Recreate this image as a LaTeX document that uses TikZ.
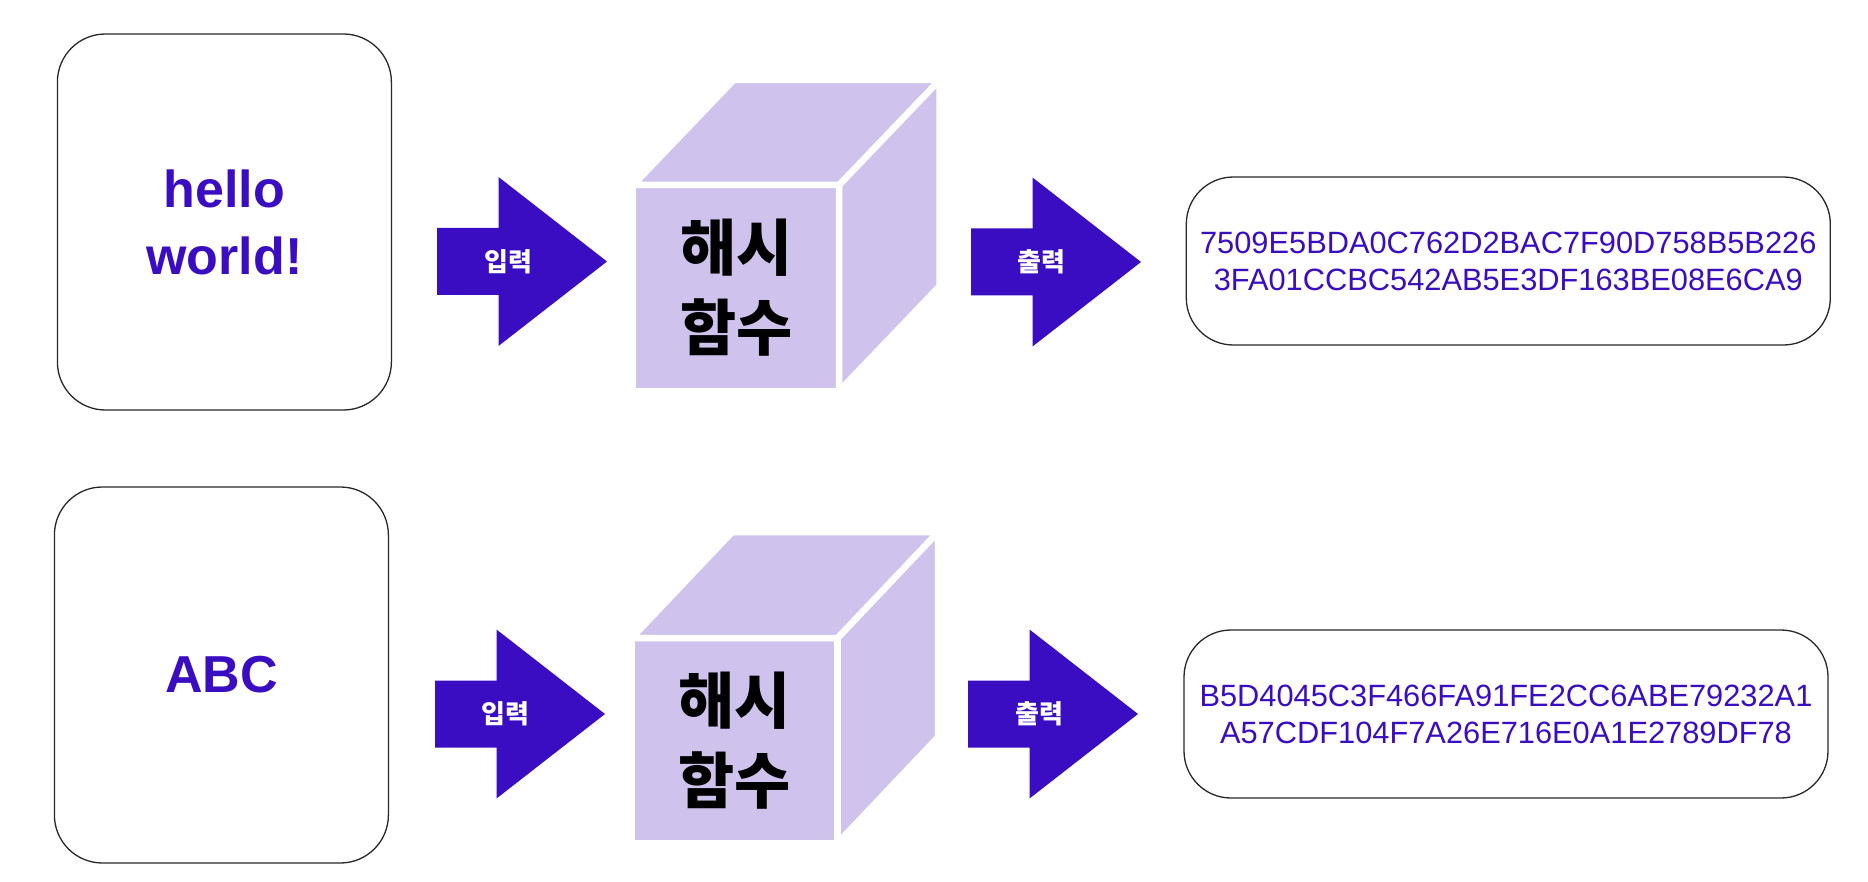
\documentclass[tikz,border=0pt]{standalone}
\usepackage{fontspec}
\newfontfamily\latfont{Liberation Sans}
\newfontfamily\krfont{Noto Sans CJK KR}
\definecolor{deep}{RGB}{58,12,194}
\definecolor{lilac}{RGB}{207,195,238}
\definecolor{edge}{RGB}{40,40,40}
\tikzset{
  inbox/.style={draw=edge, line width=1.3pt, rounded corners=48pt, minimum width=334pt, minimum height=376pt, align=center, text=deep, font=\fontsize{52}{67}\selectfont\latfont\bfseries},
  outbox/.style={draw=edge, line width=1.3pt, rounded corners=47pt, minimum width=644pt, minimum height=168pt, align=center, text=deep, font=\fontsize{30.8}{37}\selectfont\latfont},
  frontface/.style={fill=lilac, draw=white, line width=6.5pt, minimum width=206pt, minimum height=206pt, outer sep=0pt, inner sep=0pt, align=center, font=\fontsize{61}{80}\selectfont\krfont\bfseries},
  sideface/.style={fill=lilac, draw=white, line width=6.5pt, line join=round},
  arrlabel/.style={text=white, inner sep=0pt, font=\fontsize{26}{30}\selectfont\krfont\bfseries},
  blockarr/.pic={\fill[deep] (0,-33.5) -- (61.5,-33.5) -- (61.5,-84.5) -- (170,0) -- (61.5,84.5) -- (61.5,33.5) -- (0,33.5) -- cycle;},
}
\begin{document}
\begin{tikzpicture}[x=1pt,y=-1pt]
\useasboundingbox (0,0) rectangle (1868,882);
% ---------- row 1 ----------
\node[inbox] (in1) at (224.4,222) {hello\\world!};
\pic at (437,261.5) {blockarr};
\node[arrlabel] (a1) at (508,262) {입력};
\node[frontface] (f1) at (736.2,288) {해시\\함수};
\path[sideface] (f1.north west) -- ++(100.5,-105) -- ++(206,0) -- (f1.north east) -- cycle;
\path[sideface] (f1.north east) -- ++(100.5,-105) -- ++(0,206) -- (f1.south east) -- cycle;
\pic at (971,262) {blockarr};
\node[arrlabel] (b1) at (1041,262) {출력};
\node[outbox] (out1) at (1508.3,261) {7509E5BDA0C762D2BAC7F90D758B5B226\\3FA01CCBC542AB5E3DF163BE08E6CA9};
% ---------- row 2 ----------
\node[inbox] (in2) at (221.4,675) {ABC};
\pic at (435,714) {blockarr};
\node[arrlabel] (a2) at (505,714) {입력};
\node[frontface, minimum height=205pt] (f2) at (734.7,740.5) {해시\\함수};
\path[sideface] (f2.north west) -- ++(100.5,-106) -- ++(206,0) -- (f2.north east) -- cycle;
\path[sideface] (f2.north east) -- ++(100.5,-106) -- ++(0,205) -- (f2.south east) -- cycle;
\pic at (968,714) {blockarr};
\node[arrlabel] (b2) at (1039,714) {출력};
\node[outbox] (out2) at (1506,714) {B5D4045C3F466FA91FE2CC6ABE79232A1\\A57CDF104F7A26E716E0A1E2789DF78};
\end{tikzpicture}
\end{document}
